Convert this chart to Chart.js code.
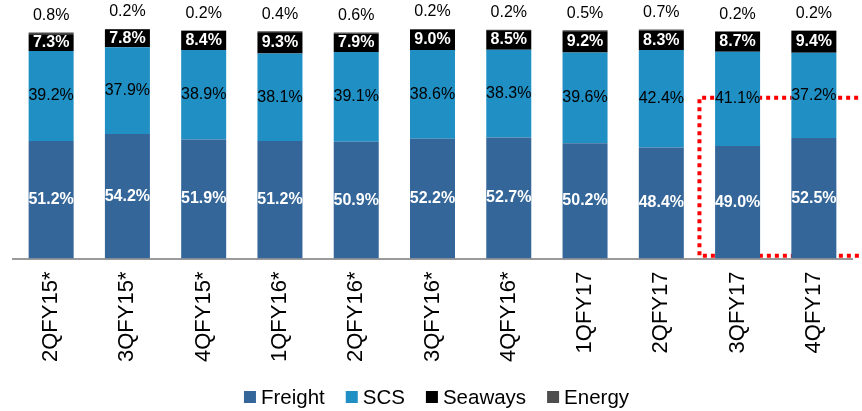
<!DOCTYPE html>
<html>
<head>
<meta charset="utf-8">
<script src="https://cdn.jsdelivr.net/npm/chart.js@4.4.0/dist/chart.umd.min.js"></script>
<style>
  body { margin: 0; background: #fff; }
  #wrap { width: 862px; height: 411px; position: relative; }
</style>
</head>
<body>
<div id="wrap"><canvas id="segChart"></canvas></div>
<script>
const quarters = ['2QFY15*', '3QFY15*', '4QFY15*', '1QFY16*', '2QFY16*', '3QFY16*', '4QFY16*', '1QFY17', '2QFY17', '3QFY17', '4QFY17'];
const freight = [51.2, 54.2, 51.9, 51.2, 50.9, 52.2, 52.7, 50.2, 48.4, 49.0, 52.5];
const scs = [39.2, 37.9, 38.9, 38.1, 39.1, 38.6, 38.3, 39.6, 42.4, 41.1, 37.2];
const seaways = [7.3, 7.8, 8.4, 9.3, 7.9, 9.0, 8.5, 9.2, 8.3, 8.7, 9.4];
const energy = [0.8, 0.2, 0.2, 0.4, 0.6, 0.2, 0.2, 0.5, 0.7, 0.2, 0.2];

// highlight box around the latest two quarters (in data units)
const boxFrom = 8.5, boxTo = 11, boxLow = 1.2, boxHigh = 70;

const FONT = "'Liberation Sans', Arial, sans-serif";

const labelStyles = [
    { color: '#fff', weight: 'bold', pos: 'mid' },
    { color: '#000', weight: 'normal', pos: 'mid' },
    { color: '#fff', weight: 'bold', pos: 'mid' },
    { color: '#000', weight: 'normal', pos: 'top' }
];

const highlightBox = {
    id: 'highlightBox',
    beforeDatasetsDraw(chart) {
        const { ctx, scales: { x, y } } = chart;
        const step = x.getPixelForValue(1) - x.getPixelForValue(0);
        const left = x.getPixelForValue(0) + step * boxFrom;
        const right = x.getPixelForValue(0) + step * boxTo;
        const top = y.getPixelForValue(boxHigh);
        const bottom = y.getPixelForValue(boxLow);
        ctx.save();
        ctx.strokeStyle = '#ff0000';
        ctx.lineWidth = 4;
        ctx.setLineDash([4, 4]);
        ctx.beginPath();
        ctx.moveTo(right, top);
        ctx.lineTo(left, top);
        ctx.lineTo(left, bottom);
        ctx.lineTo(right, bottom);
        ctx.stroke();
        ctx.restore();
    }
};

const barLabels = {
    id: 'barLabels',
    afterDatasetsDraw(chart) {
        const ctx = chart.ctx;
        ctx.save();
        ctx.textAlign = 'center';
        chart.data.datasets.forEach((ds, i) => {
            const st = labelStyles[i];
            chart.getDatasetMeta(i).data.forEach((bar, j) => {
                const txt = ds.data[j].toFixed(1) + '%';
                ctx.font = st.weight + ' 16px ' + FONT;
                ctx.fillStyle = st.color;
                if (st.pos === 'top') {
                    ctx.textBaseline = 'bottom';
                    ctx.fillText(txt, bar.x, bar.y - 9);
                } else {
                    ctx.textBaseline = 'middle';
                    ctx.fillText(txt, bar.x, (bar.y + bar.base) / 2);
                }
            });
        });
        ctx.restore();
    }
};

// legend drawn by hand so the box/text spacing can match
const bottomLegend = {
    id: 'bottomLegend',
    afterDraw(chart) {
        const ctx = chart.ctx;
        const area = chart.chartArea;
        ctx.save();
        ctx.font = '20.5px ' + FONT;
        const items = chart.data.datasets.map(ds => ({ text: ds.label, color: ds.backgroundColor, w: ctx.measureText(ds.label).width }));
        const box = 12, gapText = 5, gapItem = 21;
        const total = items.reduce((s, it) => s + box + gapText + it.w, 0) + gapItem * (items.length - 1);
        let x = (area.left + area.right) / 2 + 4 - total / 2;
        const yMid = chart.height - 14;
        ctx.textBaseline = 'middle';
        ctx.textAlign = 'left';
        items.forEach(it => {
            ctx.fillStyle = it.color;
            ctx.fillRect(x, yMid - box / 2, box, box);
            x += box + gapText;
            ctx.fillStyle = '#000';
            ctx.fillText(it.text, x, yMid + 1);
            x += it.w + gapItem;
        });
        ctx.restore();
    }
};

const ctx = document.getElementById('segChart').getContext('2d');
new Chart(ctx, {
    type: 'bar',
    data: {
        labels: quarters,
        datasets: [
            { label: 'Freight', data: freight, backgroundColor: '#346699' },
            { label: 'SCS', data: scs, backgroundColor: '#208fc3' },
            { label: 'Seaways', data: seaways, backgroundColor: '#000000' },
            { label: 'Energy', data: energy, backgroundColor: '#4d4d4d' }
        ]
    },
    options: {
        responsive: true,
        maintainAspectRatio: false,
        animation: false,
        datasets: {
            bar: { categoryPercentage: 1, barPercentage: 0.59 }
        },
        layout: { padding: { top: 29, left: 13, right: 10, bottom: 36 } },
        scales: {
            x: {
                stacked: true,
                grid: { display: false, drawTicks: false },
                border: { display: true, color: '#9a9a9a', width: 2 },
                ticks: {
                    color: '#000',
                    font: { family: FONT, size: 22 },
                    minRotation: 90,
                    maxRotation: 90,
                    padding: 13
                }
            },
            y: {
                stacked: true,
                display: false,
                min: 0,
                max: 100
            }
        },
        plugins: {
            legend: { display: false },
            tooltip: { enabled: false }
        }
    },
    plugins: [highlightBox, barLabels, bottomLegend]
});
</script>
</body>
</html>
